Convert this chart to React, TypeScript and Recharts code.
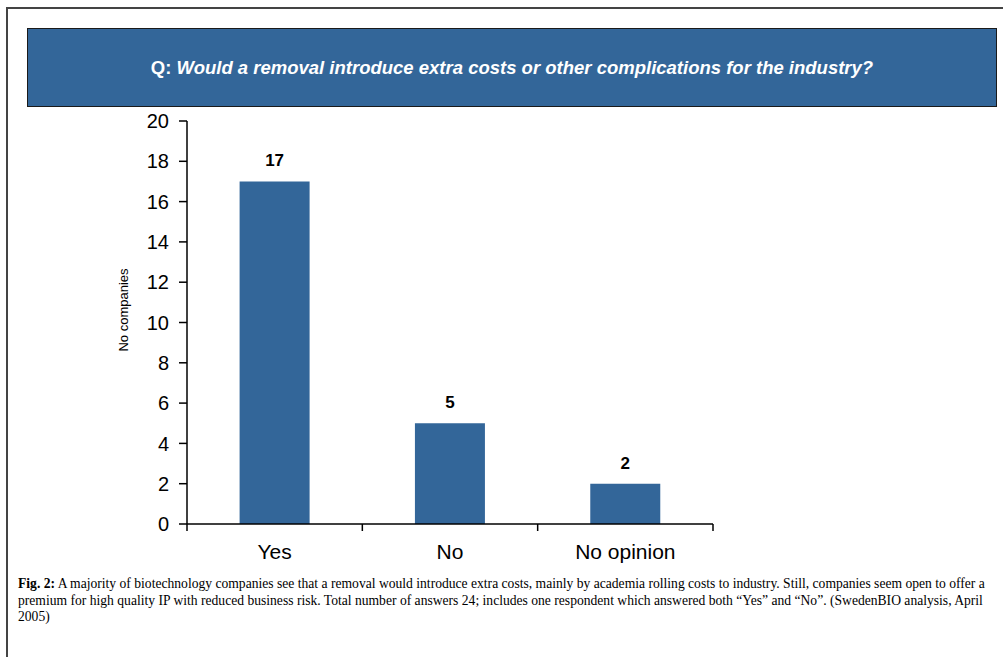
import { BarChart, Bar, XAxis, YAxis, LabelList } from 'recharts';

const categories = ['Yes', 'No', 'No opinion'];
const companies = [17, 5, 2];
const yTicks = [0, 2, 4, 6, 8, 10, 12, 14, 16, 18, 20];

const data = categories.map((name, i) => ({ name, value: companies[i] }));

const BLUE = '#336699';
const X_TICK_SIZE = 6;
const X_TICK_MARGIN = 16;

// category label centred in the band, plus tick marks on the band edges
function CategoryTick(props: any) {
  const { x, y, payload, index, visibleTicksCount } = props;
  const half = payload?.offset ?? 0;
  const axisY = y - X_TICK_SIZE - X_TICK_MARGIN;
  const isLast = index === visibleTicksCount - 1;
  return (
    <g>
      <line x1={x - half} x2={x - half} y1={axisY} y2={axisY + 7} stroke="#000" strokeWidth={1.5} />
      {isLast && (
        <line x1={x + half} x2={x + half} y1={axisY} y2={axisY + 7} stroke="#000" strokeWidth={1.5} />
      )}
      <text x={x} y={axisY + 35} textAnchor="middle" fill="#000" fontSize={21}>
        {payload.value}
      </text>
    </g>
  );
}

export default function App() {
  return (
    <div
      style={{
        position: 'absolute',
        left: 0,
        top: 0,
        width: 1003,
        height: 657,
        background: '#fff',
        overflow: 'hidden',
        fontFamily: 'Arial, "Liberation Sans", sans-serif',
      }}
    >
      {/* frame */}
      <div
        style={{
          position: 'absolute',
          left: 6,
          top: 7,
          width: 1003,
          height: 660,
          borderTop: '2px solid #444',
          borderLeft: '2px solid #444',
        }}
      />
      {/* question banner */}
      <div
        style={{
          position: 'absolute',
          left: 27,
          top: 28,
          width: 968,
          height: 77,
          background: BLUE,
          border: '1px solid #1a1a1a',
          color: '#fff',
          fontWeight: 'bold',
          fontSize: 18.5,
          display: 'flex',
          alignItems: 'center',
          justifyContent: 'center',
        }}
      >
        <span>
          Q: <i>Would a removal introduce extra costs or other complications for the industry?</i>
        </span>
      </div>

      <div style={{ position: 'absolute', left: 0, top: 0 }}>
        <BarChart
          width={1003}
          height={657}
          data={data}
          margin={{ top: 121, right: 290, left: 117, bottom: 103 }}
          barCategoryGap="30%"
        >
          <XAxis
            dataKey="name"
            height={30}
            tickLine={false}
            tickSize={X_TICK_SIZE}
            tickMargin={X_TICK_MARGIN}
            axisLine={{ stroke: '#000', strokeWidth: 1.5 }}
            tick={<CategoryTick />}
            interval={0}
          />
          <YAxis
            width={70}
            domain={[0, 20]}
            ticks={yTicks}
            tickSize={8}
            tickMargin={10}
            interval={0}
            tick={{ fill: '#000', fontSize: 20 }}
            axisLine={{ stroke: '#000', strokeWidth: 1.5 }}
            tickLine={{ stroke: '#000', strokeWidth: 1.5 }}
          />
          <Bar dataKey="value" fill={BLUE} isAnimationActive={false}>
            <LabelList
              dataKey="value"
              position="top"
              offset={15}
              style={{ fill: '#000', fontSize: 17, fontWeight: 'bold' }}
            />
          </Bar>
        </BarChart>
      </div>

      {/* y axis title */}
      <div
        style={{
          position: 'absolute',
          left: 123,
          top: 310,
          transform: 'translate(-50%, -50%) rotate(-90deg)',
          fontSize: 13,
          whiteSpace: 'nowrap',
          color: '#000',
        }}
      >
        No companies
      </div>

      {/* caption */}
      <div
        style={{
          position: 'absolute',
          left: 18,
          top: 576,
          width: 978,
          fontFamily: '"Liberation Serif", "Times New Roman", serif',
          fontSize: 13.6,
          lineHeight: '16.5px',
          color: '#000',
        }}
      >
        <span style={{ fontWeight: 'bold' }}>Fig. 2:</span>
        {' A majority of biotechnology companies see that a removal would introduce extra costs, mainly by academia rolling costs to industry. Still, companies seem open to offer a premium for high quality IP with reduced business risk. Total number of answers 24; includes one respondent which answered both “Yes” and “No”. (SwedenBIO analysis, April 2005)'}
      </div>
    </div>
  );
}
